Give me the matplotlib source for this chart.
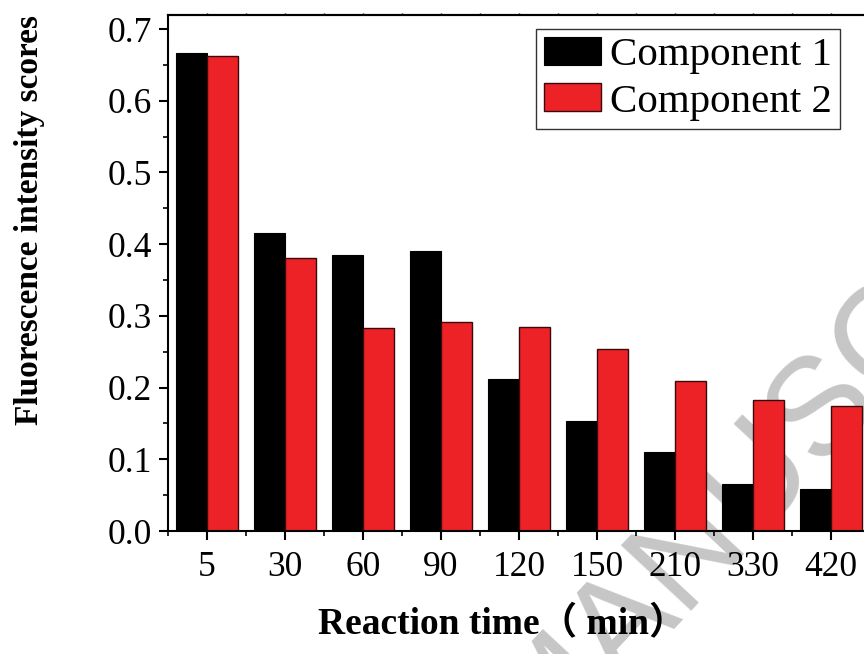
import numpy as np
import matplotlib.pyplot as plt
from matplotlib.ticker import MultipleLocator

times = ['5', '30', '60', '90', '120', '150', '210', '330', '420']
component1 = [0.667, 0.416, 0.385, 0.390, 0.212, 0.153, 0.110, 0.065, 0.059]
component2 = [0.662, 0.381, 0.283, 0.291, 0.284, 0.254, 0.209, 0.183, 0.175]

plt.rcParams['font.family'] = ['Liberation Serif', 'Noto Sans CJK SC']

fig = plt.figure(figsize=(8.64, 6.54), dpi=100)
# the original figure is cut off on the right, so the axes run past the edge
ax = fig.add_axes([168 / 864, 123 / 654, 702 / 864, 516 / 654])
ax.set_facecolor('none')

# watermark behind everything
fig.text(539 / 864, -108 / 654, 'MANUSCRIPT', rotation=47, rotation_mode='anchor',
         ha='left', va='baseline', fontsize=100, color='#c6c6c6',
         family='Liberation Sans', zorder=-5)

x = np.arange(len(times))
w = 0.4
ax.bar(x - w / 2, component1, w, color='black', edgecolor='black', linewidth=0.8,
       label='Component 1')
ax.bar(x + w / 2, component2, w, color='#ec2227', edgecolor='#3a0a0a', linewidth=1.0,
       label='Component 2')

ax.set_xlim(-0.5, 8.5)
ax.set_ylim(0, 0.7196)
ax.set_xticks(x)
ax.set_xticklabels(times)
ax.xaxis.set_minor_locator(MultipleLocator(1, offset=0.5))
ax.yaxis.set_major_locator(MultipleLocator(0.1))
ax.yaxis.set_minor_locator(MultipleLocator(0.05))
ax.set_yticklabels([f'{v:.1f}' for v in ax.get_yticks()])

for s in ax.spines.values():
    s.set_linewidth(1.5)
ax.tick_params(which='major', direction='out', length=6.5, width=1.5, labelsize=25.5)
ax.tick_params(which='minor', direction='out', length=3.6, width=1.2)
ax.tick_params(axis='x', which='major', pad=8)
ax.tick_params(axis='y', which='major', pad=5)

# tiny marks along the top edge
top = ax.secondary_xaxis('top')
top.set_xticks(x)
top.set_xticks(x + 0.5, minor=True)
top.set_xticklabels([])
top.tick_params(which='both', direction='out', length=1.5, width=1.0)
top.spines['top'].set_linewidth(1.5)

ax.set_ylabel('Fluorescence intensity scores', fontsize=24, fontweight='bold')
ax.yaxis.set_label_coords(-0.175, 0.603)
ax.set_xlabel('Reaction time（ min）', fontsize=27, fontweight='bold')
ax.xaxis.set_label_coords(0.476, -0.145)

leg = ax.legend(loc='upper right', bbox_to_anchor=(0.957, 0.973), borderaxespad=0,
                fontsize=29.5, frameon=True, fancybox=False, edgecolor='black',
                handlelength=1.39, handleheight=0.66, handletextpad=0.2,
                labelspacing=0.22, borderpad=0.2)
leg.get_frame().set_linewidth(1.0)

fig.savefig('out.png', dpi=100)
